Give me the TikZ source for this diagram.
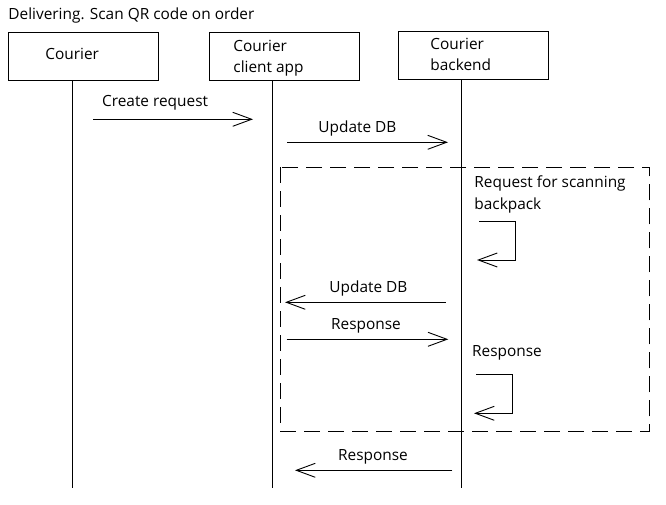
\documentclass[tikz,border=0pt]{standalone}
\usepackage{fontspec}
\setmainfont{Open Sans}
\usetikzlibrary{arrows.meta}

\begin{document}
\begin{tikzpicture}[x=1pt, y=-1pt, line width=0.9pt,
    lifebox/.style={draw, minimum width=150pt, minimum height=48pt, anchor=north west, inner sep=0pt},
    txt/.style={anchor=base west, inner sep=0pt, font=\fontsize{15.4}{21}\selectfont, align=left},
    msg/.style={-{Straight Barb[length=19pt,width=14pt]}},
    frame/.style={dash pattern=on 16pt off 8pt}]

  \useasboundingbox (0,0) rectangle (666,505);

  % Title
  \node[txt] (title) at (8,20) {Delivering. Scan QR code on order};

  % Participants
  \node[lifebox] (courier) at (8,32.5) {};
  \node[lifebox] (clientapp) at (208.5,32.5) {};
  \node[lifebox] (backend) at (397.5,31.5) {};
  \node[txt] (courier-lbl) at (45,59.3) {Courier};
  \node[txt] (clientapp-lbl) at (233,72.3) {Courier\\client app};
  \node[txt] (backend-lbl) at (430,71) {Courier\\backend};

  % Lifelines
  \coordinate (courier-end) at (72.5,488);
  \coordinate (clientapp-end) at (272.3,488);
  \coordinate (backend-end) at (461,488);
  \draw (courier.south -| courier-end) -- (courier-end);
  \draw (clientapp.south -| clientapp-end) -- (clientapp-end);
  \draw (backend.south -| backend-end) -- (backend-end);

  % Scanning frame
  \draw[frame] (280,167.3) rectangle (649,431.3);

  % Create request
  \coordinate (create-a) at (93,119.3);
  \coordinate (create-b) at (253,119.3);
  \draw[msg] (create-a) -- (create-b);
  \node[txt] (create-lbl) at (101.7,106.7) {Create request};

  % Update DB (to backend)
  \coordinate (update-a) at (287,142.3);
  \coordinate (update-b) at (448,142.3);
  \draw[msg] (update-a) -- (update-b);
  \node[txt] (update-lbl) at (318,133) {Update DB};

  % Request for scanning backpack (self)
  \coordinate (scan-a) at (479,221);
  \coordinate (scan-b) at (477,260);
  \draw[msg] (scan-a) -| (515,260) -- (scan-b);
  \node[txt] (scan-lbl) at (474,209.3) {Request for scanning\\[1pt]backpack};

  % Update DB (to client app)
  \coordinate (updateback-a) at (445.7,302.3);
  \coordinate (updateback-b) at (285,302.3);
  \draw[msg] (updateback-a) -- (updateback-b);
  \node[txt] (updateback-lbl) at (329,292.7) {Update DB};

  % Response (to backend)
  \coordinate (resp-a) at (286.7,339.3);
  \coordinate (resp-b) at (448.3,339.3);
  \draw[msg] (resp-a) -- (resp-b);
  \node[txt] (resp-lbl) at (330.7,329.5) {Response};

  % Response (self)
  \coordinate (respself-a) at (476,374.3);
  \coordinate (respself-b) at (474,413.3);
  \draw[msg] (respself-a) -| (512.3,413.3) -- (respself-b);
  \node[txt] (respself-lbl) at (471.7,356.7) {Response};

  % Response (to client app)
  \coordinate (final-a) at (452.3,470.3);
  \coordinate (final-b) at (295,470.3);
  \draw[msg] (final-a) -- (final-b);
  \node[txt] (final-lbl) at (337.7,460) {Response};

\end{tikzpicture}
\end{document}
